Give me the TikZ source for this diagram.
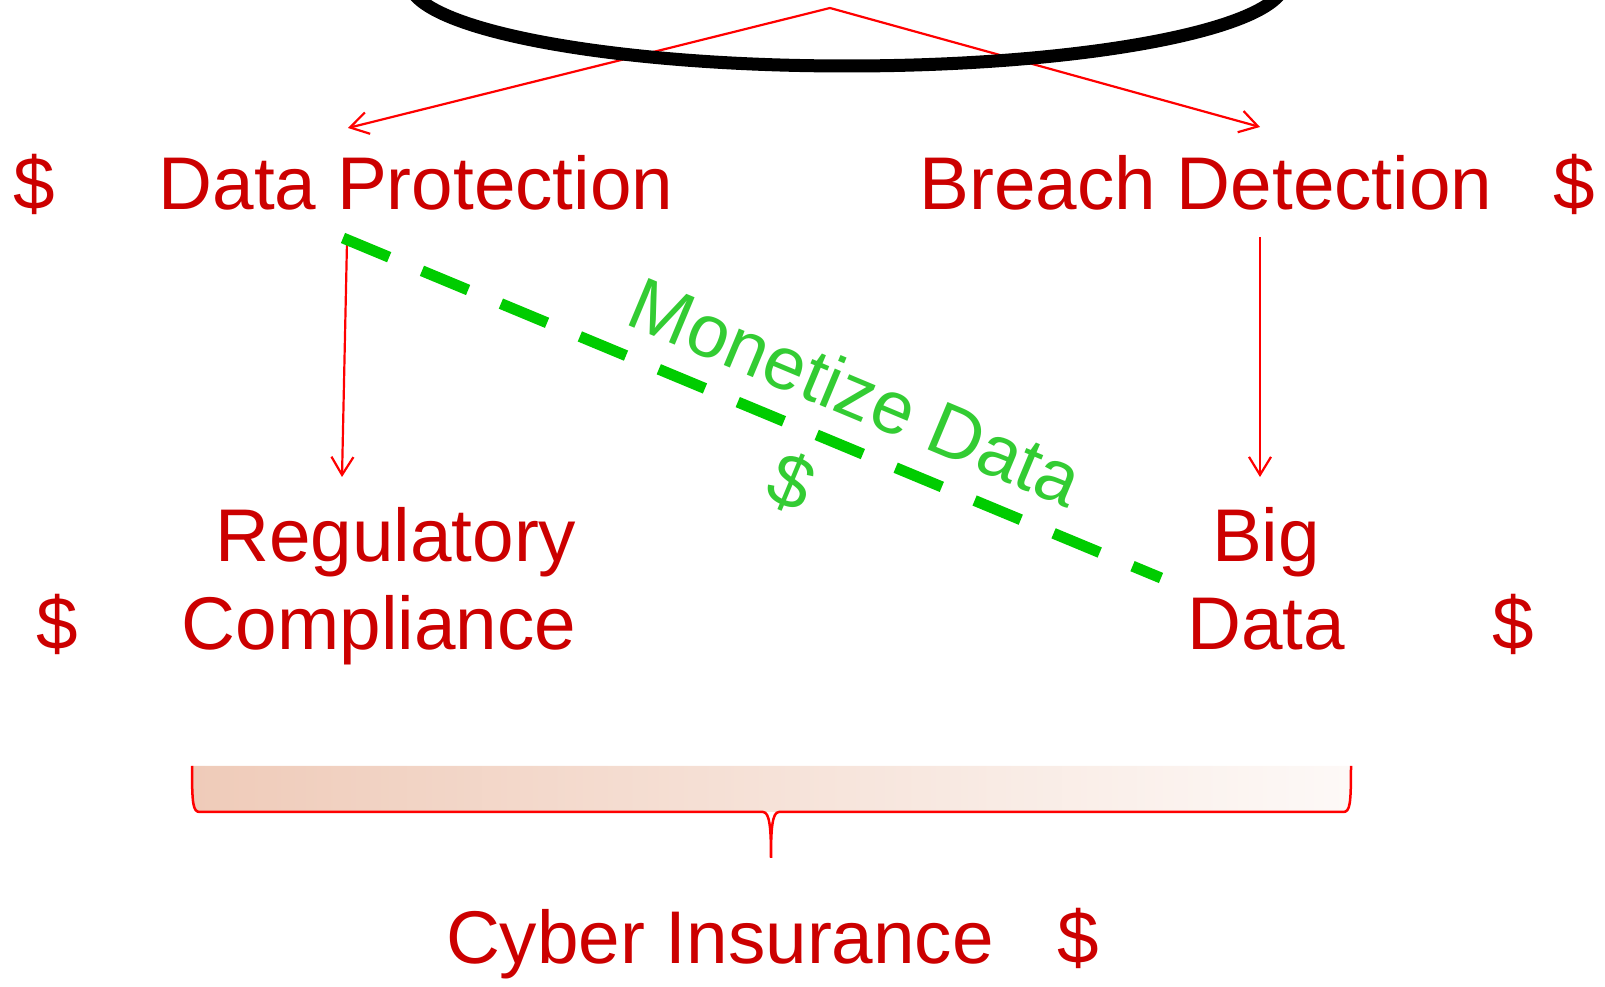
\documentclass[tikz,border=0pt]{standalone}
\usepackage{fontspec}
\setmainfont{Liberation Sans}
\usepackage{tikz}
\usetikzlibrary{arrows.meta}
\definecolor{textred}{RGB}{204,0,0}
\definecolor{flowred}{RGB}{255,0,0}
\definecolor{mongreen}{RGB}{0,204,0}
\definecolor{labgreen}{RGB}{51,204,51}
\definecolor{peach}{RGB}{239,203,185}
\definecolor{peachwhite}{RGB}{253,249,247}
\tikzset{
  topic/.style={text=textred,font=\fontsize{21.25}{25.3}\selectfont,
    inner sep=0pt,anchor=base},
  money/.style={topic},
  relflow/.style={-{Straight Barb[length=1.8mm,width=2.2mm]},
    line width=0.22mm,draw=flowred},
  monflow/.style={line width=1.1mm,draw=mongreen,
    dash pattern=on 5mm off 3.55mm},
  monlab/.style={text=labgreen,font=\fontsize{21.25}{25.3}\selectfont,
    inner sep=0pt,anchor=base,rotate=-22.7},
  bracefill/.style={left color=peach,right color=peachwhite},
  braceline/.style={draw=flowred,line width=0.25mm}
}

\begin{document}
\begin{tikzpicture}[x=0.1mm,y=-0.1mm]
  \useasboundingbox (0,0) rectangle (1605,987);
  % topics and their price tags
  \node[money] (dpdol) at (34,210) {\$};
  \node[topic] (dp) at (416,210) {Data Protection};
  \node[topic] (bd) at (1206,210) {Breach Detection};
  \node[money] (bddol) at (1574,210) {\$};
  \node[topic,align=right,anchor=base east] (rc) at (577,650) {Regulatory\\Compliance};
  \node[money] (rcdol) at (57,650) {\$};
  \node[topic,align=center] (bg) at (1266,650) {Big\\Data};
  \node[money] (bgdol) at (1513,650) {\$};
  \node[topic] (ci) at (720,964) {Cyber Insurance};
  \node[money] (cidol) at (1078,964) {\$};
  % arrow ends
  \coordinate (apex) at (830,8);
  \coordinate (dp-in) at (348,128);
  \coordinate (bd-in) at (1260,127);
  \coordinate (dp-out) at (347,242);
  \coordinate (rc-in) at (342,477);
  \coordinate (bd-out) at (1260,237);
  \coordinate (bg-in) at (1260,477);
  \coordinate (mon-from) at (343,238);
  \coordinate (mon-to) at (1161,578);
  \draw[relflow] (apex)--(dp-in);
  \draw[relflow] (apex)--(bd-in);
  \draw[relflow] (dp-out)--(rc-in);
  \draw[relflow] (bd-out)--(bg-in);
  % the drum
  \draw[line width=1.3mm] (847,-19) ellipse [x radius=438,y radius=85];
  % monetize link
  \draw[monflow] (mon-from)--(mon-to);
  \node[monlab] (mon) at (846,416) {Monetize Data};
  \node[monlab] (mondol) at (782,506) {\$};
  % brace over the bottom row
  \shade[bracefill] (192,766) .. controls (192,805) and (193,812) .. (200,812)
    -- (1343,812) .. controls (1350,812) and (1351,805) .. (1351,766) -- cycle;
  \draw[braceline] (192,766) .. controls (192,805) and (193,812) .. (200,812)
    -- (763,812) .. controls (770,812) and (771,830) .. (771,858)
    .. controls (771,830) and (772,812) .. (779,812)
    -- (1343,812) .. controls (1350,812) and (1351,805) .. (1351,766);
\end{tikzpicture}
\end{document}
